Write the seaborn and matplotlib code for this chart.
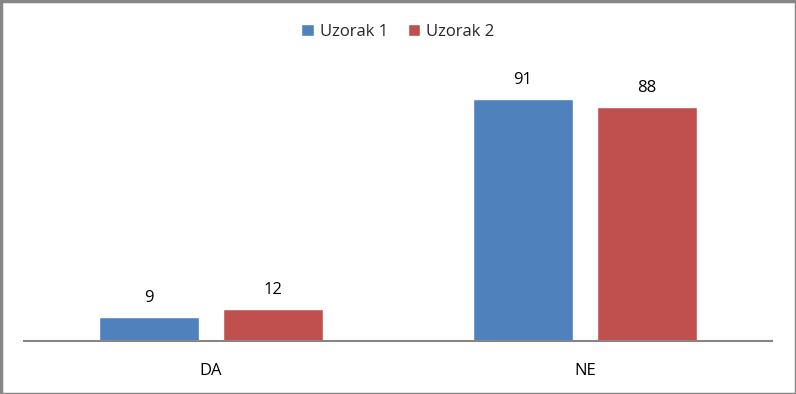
import matplotlib
matplotlib.use("Agg")
import matplotlib.pyplot as plt
import seaborn as sns
import pandas as pd
from matplotlib.patches import Rectangle

categories = ["DA", "NE"]
series = ["Uzorak 1", "Uzorak 2"]
uzorak1 = [9, 91]
uzorak2 = [12, 88]
colors = ["#4F81BD", "#C0504D"]

df = pd.DataFrame({
    "cat": categories * 2,
    "series": [series[0]] * 2 + [series[1]] * 2,
    "val": uzorak1 + uzorak2,
})

sns.set_theme(style="white")
plt.rcParams["font.family"] = ["Open Sans", "DejaVu Sans"]

fig = plt.figure(figsize=(7.96, 3.94), dpi=100)
ax = fig.add_axes([24 / 796, 53 / 394, 748 / 796, 266 / 394])
sns.barplot(data=df, x="cat", y="val", hue="series", palette=colors,
            saturation=1, width=0.663, gap=0.2, ax=ax, legend=True)
ax.set_ylim(0, 100)
ax.set_xlim(-0.5, 1.5)
ax.set_xlabel("")
ax.set_ylabel("")
ax.set_yticks([])
for s in ["top", "right", "left"]:
    ax.spines[s].set_visible(False)
ax.spines["bottom"].set_color("#868686")
ax.spines["bottom"].set_linewidth(1.5)
ax.tick_params(axis="x", length=0, labelsize=12, colors="black", pad=16)

for cont in ax.containers:
    ax.bar_label(cont, fmt="%g", padding=8, fontsize=12, color="black")

h, l = ax.get_legend_handles_labels()
ax.legend_.remove()
fig.legend(h, l, loc="center", bbox_to_anchor=(0.5, 1 - 32 / 394), ncol=2,
           frameon=False, fontsize=12, handlelength=0.75, handleheight=0.75,
           handletextpad=0.35, columnspacing=1.2)

fig.patches.append(Rectangle((0.5 / 796, 0.5 / 394), 1 - 1 / 796, 1 - 1 / 394,
                             transform=fig.transFigure, fill=False,
                             edgecolor="#868686", linewidth=2.5))
fig.savefig("out.png", dpi=100)
